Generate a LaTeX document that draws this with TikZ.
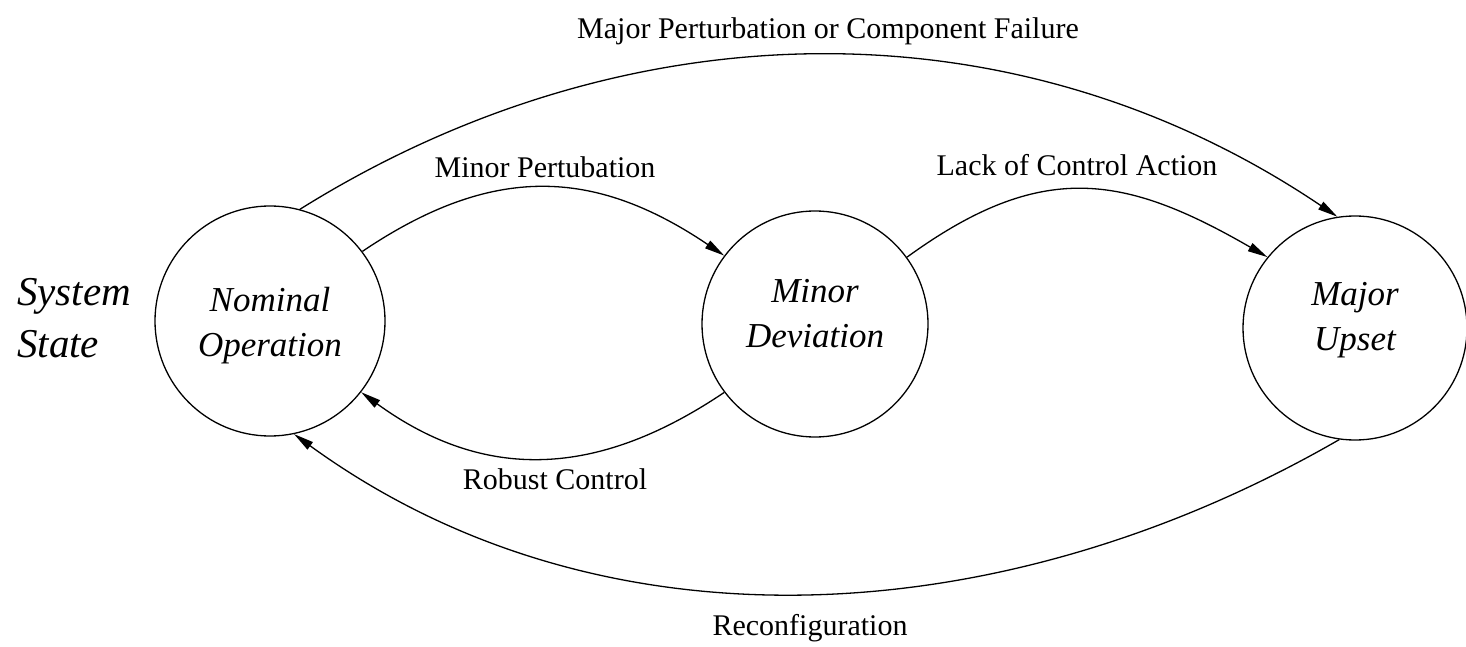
\documentclass[tikz,border=0pt]{standalone}
\usepackage{fontspec}
\setmainfont{Liberation Serif}
\usetikzlibrary{arrows.meta}

\begin{document}
\begin{tikzpicture}[x=1pt,y=1pt,
  state/.style={circle, draw, line width=1.3pt, inner sep=0pt, align=center,
    font=\fontsize{35}{45}\selectfont\itshape},
  edge/.style={line width=1.3pt, -{Triangle[length=20pt,width=9pt]}},
  lbl/.style={font=\fontsize{30}{36}\selectfont, anchor=base, inner sep=0pt},
  side/.style={font=\fontsize{41}{52}\selectfont\itshape, anchor=base west, inner sep=0pt}
]
\useasboundingbox (0,0) rectangle (1466,646);

% states (invisible struts nudge the two text lines inside each circle)
\node[state, minimum size=230pt] (N) at (270,325) {\rule{0pt}{34pt}Nominal\\Operation};
\node[state, minimum size=226pt] (D) at (815,322) {Minor\\Deviation\rule[-22pt]{0pt}{0pt}};
\node[state, minimum size=224pt] (U) at (1355,318) {Major\\Upset\rule[-24pt]{0pt}{0pt}};

% side caption
\node[side] (sys1) at (17,341) {System};
\node[side] (sys2) at (17,289) {State};

% transitions
\draw[edge] (N.75) .. controls +(32:380) and +(146:393) .. (U.99);
\draw[edge] (N.37) .. controls +(34:157) and +(146:157) .. (D.143);
\draw[edge] (D.36) .. controls +(36:166) and +(150:166) .. (U.141);
\draw[edge] (D.217) .. controls +(214:153) and +(324:153) .. (N.322);
\draw[edge] (U.262) .. controls +(210:384) and +(324:384) .. (N.282);

% transition labels
\node[lbl] (lmaj) at (828,607) {Major Perturbation or Component Failure};
\node[lbl] (lmin) at (545,468) {Minor Pertubation};
\node[lbl] (llack) at (1077,470) {Lack of Control Action};
\node[lbl] (lrob) at (555,157) {Robust Control};
\node[lbl] (lrec) at (810,11) {Reconfiguration};
\end{tikzpicture}
\end{document}
